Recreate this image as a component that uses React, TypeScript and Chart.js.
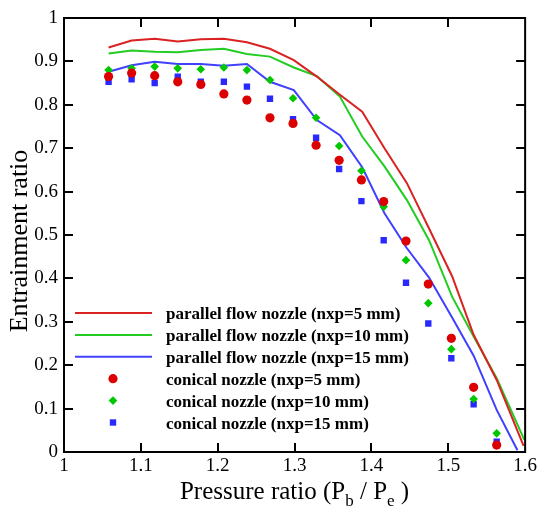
import { useEffect, useRef } from "react";
import { Chart, registerables } from "chart.js";

Chart.register(...registerables);

// ---------- data ----------
const markerX = [1.058, 1.088, 1.118, 1.148, 1.178, 1.208, 1.238, 1.268, 1.298, 1.328, 1.358, 1.387, 1.416, 1.445, 1.474, 1.504, 1.533, 1.563];
const conical5 = [0.865, 0.873, 0.867, 0.853, 0.847, 0.825, 0.811, 0.770, 0.757, 0.707, 0.672, 0.627, 0.577, 0.486, 0.387, 0.262, 0.149, 0.016];
const conical10 = [0.880, 0.884, 0.888, 0.884, 0.882, 0.886, 0.880, 0.857, 0.815, 0.770, 0.705, 0.648, 0.565, 0.442, 0.343, 0.237, 0.122, 0.043];
const conical15 = [0.853, 0.859, 0.850, 0.865, 0.853, 0.853, 0.842, 0.814, 0.767, 0.724, 0.652, 0.578, 0.488, 0.390, 0.296, 0.216, 0.110, 0.024];

const lineX = [1.058, 1.088, 1.118, 1.148, 1.178, 1.208, 1.238, 1.268, 1.299, 1.329, 1.359, 1.388, 1.417, 1.446, 1.475, 1.505, 1.533, 1.563];
const lineEndX = [1.598, 1.599, 1.590];
const parallel5 = [0.932, 0.948, 0.952, 0.946, 0.951, 0.952, 0.944, 0.929, 0.903, 0.865, 0.823, 0.784, 0.700, 0.620, 0.515, 0.405, 0.270, 0.166, 0.014];
const parallel10 = [0.918, 0.925, 0.922, 0.921, 0.926, 0.929, 0.917, 0.911, 0.886, 0.866, 0.819, 0.727, 0.658, 0.581, 0.488, 0.358, 0.266, 0.170, 0.028];
const parallel15 = [0.876, 0.891, 0.899, 0.894, 0.894, 0.890, 0.894, 0.853, 0.834, 0.765, 0.730, 0.656, 0.550, 0.470, 0.402, 0.310, 0.222, 0.097, 0.004];

const xTicks = [1, 1.1, 1.2, 1.3, 1.4, 1.5, 1.6];
const yTicks = [0, 0.1, 0.2, 0.3, 0.4, 0.5, 0.6, 0.7, 0.8, 0.9, 1];

const seriesLabels = [
  "parallel flow nozzle (nxp=5 mm)",
  "parallel flow nozzle (nxp=10 mm)",
  "parallel flow nozzle (nxp=15 mm)",
  "conical nozzle (nxp=5 mm)",
  "conical nozzle (nxp=10 mm)",
  "conical nozzle (nxp=15 mm)",
];

const RED_LINE = "rgb(218,34,34)";
const GREEN_LINE = "rgb(34,204,34)";
const BLUE_LINE = "rgb(64,64,255)";
const RED_PT = "rgb(220,0,0)";
const GREEN_PT = "rgb(0,200,0)";
const BLUE_PT = "rgb(40,40,255)";
const SERIF = "'Liberation Serif', 'Times New Roman', serif";

function pts(xs: number[], ys: number[], endX?: number) {
  return ys.map((y, i) => ({ x: i < xs.length ? xs[i] : (endX as number), y }));
}

function marker(ctx: CanvasRenderingContext2D, style: string, r: number, x: number, y: number) {
  ctx.beginPath();
  if (style === "circle") {
    ctx.arc(x, y, r, 0, Math.PI * 2);
  } else if (style === "rectRot") {
    ctx.moveTo(x, y - r);
    ctx.lineTo(x + r, y);
    ctx.lineTo(x, y + r);
    ctx.lineTo(x - r, y);
    ctx.closePath();
  } else {
    const s = r * Math.SQRT1_2;
    ctx.rect(x - s, y - s, 2 * s, 2 * s);
  }
  ctx.fill();
}

const decorPlugin = {
  id: "decor",
  afterDraw(chart: any) {
    const { ctx, chartArea: a, scales } = chart;
    const xs = scales.x;
    const ys = scales.y;
    ctx.save();
    ctx.strokeStyle = "#000";
    ctx.lineWidth = 2;
    ctx.strokeRect(a.left, a.top, a.right - a.left, a.bottom - a.top);
    const tl = 9;
    ctx.beginPath();
    xTicks.slice(1, -1).forEach((v) => {
      const px = Math.round(xs.getPixelForValue(v));
      ctx.moveTo(px, a.bottom);
      ctx.lineTo(px, a.bottom - tl);
      ctx.moveTo(px, a.top);
      ctx.lineTo(px, a.top + tl);
    });
    yTicks.slice(1, -1).forEach((v) => {
      const py = Math.round(ys.getPixelForValue(v));
      ctx.moveTo(a.left, py);
      ctx.lineTo(a.left + tl, py);
      ctx.moveTo(a.right, py);
      ctx.lineTo(a.right - tl, py);
    });
    ctx.stroke();

    // legend
    const ds = chart.data.datasets;
    const lx0 = a.left + 11;
    const lx1 = a.left + 88;
    const mx = a.left + 49;
    const tx = a.left + 102;
    const y0 = a.top + 295;
    const dy = 21.9;
    ctx.font = `bold 17px ${SERIF}`;
    ctx.textBaseline = "alphabetic";
    ctx.textAlign = "left";
    ds.forEach((d: any, i: number) => {
      const y = y0 + i * dy;
      if (d.showLine) {
        ctx.strokeStyle = d.borderColor;
        ctx.lineWidth = 2;
        ctx.beginPath();
        ctx.moveTo(lx0, y);
        ctx.lineTo(lx1, y);
        ctx.stroke();
      } else {
        ctx.fillStyle = d.backgroundColor;
        marker(ctx, d.pointStyle, d.pointRadius, mx, y);
      }
      ctx.fillStyle = "#000";
      ctx.fillText(d.label, tx, y + 6);
    });

    // y title
    ctx.save();
    ctx.translate(27, (a.top + a.bottom) / 2 + 6);
    ctx.rotate(-Math.PI / 2);
    ctx.font = `26px ${SERIF}`;
    ctx.textAlign = "center";
    ctx.fillStyle = "#000";
    ctx.fillText("Entrainment ratio", 0, 0);
    ctx.restore();

    // x title with subscripts
    const parts: [string, boolean][] = [
      ["Pressure ratio (P", false],
      ["b", true],
      [" / P", false],
      ["e", true],
      [" )", false],
    ];
    const big = `25px ${SERIF}`;
    const small = `17px ${SERIF}`;
    let w = 0;
    parts.forEach(([t, s]) => {
      ctx.font = s ? small : big;
      w += ctx.measureText(t).width;
    });
    let cx = (a.left + a.right) / 2 - w / 2;
    const base = 499;
    ctx.textAlign = "left";
    ctx.fillStyle = "#000";
    parts.forEach(([t, s]) => {
      ctx.font = s ? small : big;
      ctx.fillText(t, cx, s ? base + 7 : base);
      cx += ctx.measureText(t).width;
    });
    ctx.restore();
  },
};

export default function App() {
  const ref = useRef<HTMLCanvasElement | null>(null);
  useEffect(() => {
    if (!ref.current) return;
    const lineDs = (label: string, data: any[], color: string) => ({
      label,
      data,
      showLine: true,
      borderColor: color,
      backgroundColor: color,
      borderWidth: 2,
      pointRadius: 0,
      tension: 0,
      order: 2,
    });
    const ptDs = (label: string, data: any[], color: string, style: string, r: number) => ({
      label,
      data,
      showLine: false,
      pointStyle: style,
      pointRadius: r,
      pointBorderWidth: 0,
      borderWidth: 0,
      borderColor: color,
      backgroundColor: color,
      pointBackgroundColor: color,
      order: 1,
    });
    const chart = new Chart(ref.current, {
      type: "scatter",
      data: {
        datasets: [
          lineDs(seriesLabels[0], pts(lineX, parallel5, lineEndX[0]), RED_LINE),
          lineDs(seriesLabels[1], pts(lineX, parallel10, lineEndX[1]), GREEN_LINE),
          lineDs(seriesLabels[2], pts(lineX, parallel15, lineEndX[2]), BLUE_LINE),
          ptDs(seriesLabels[3], pts(markerX, conical5), RED_PT, "circle", 4.6),
          ptDs(seriesLabels[4], pts(markerX, conical10), GREEN_PT, "rectRot", 4.3),
          ptDs(seriesLabels[5], pts(markerX, conical15), BLUE_PT, "rect", 4.5),
        ] as any,
      },
      options: {
        animation: false,
        responsive: false,
        devicePixelRatio: 1,
        layout: { padding: { top: 18, right: 12, left: 0, bottom: 0 } },
        plugins: { legend: { display: false }, tooltip: { enabled: false } },
        scales: {
          x: {
            type: "linear",
            min: 1,
            max: 1.6,
            afterFit: (s: any) => {
              s.height = 56;
            },
            afterBuildTicks: (s: any) => {
              s.ticks = xTicks.map((v) => ({ value: v }));
            },
            grid: { display: false, drawTicks: false },
            border: { display: false },
            ticks: {
              padding: 3,
              color: "#000",
              font: { family: SERIF, size: 19 },
              callback: (v: any) => String(Math.round(Number(v) * 10) / 10),
              maxRotation: 0,
              autoSkip: false,
            },
          },
          y: {
            type: "linear",
            min: 0,
            max: 1,
            afterFit: (s: any) => {
              s.width = 64;
            },
            afterBuildTicks: (s: any) => {
              s.ticks = yTicks.map((v) => ({ value: v }));
            },
            grid: { display: false, drawTicks: false },
            border: { display: false },
            ticks: {
              padding: 6,
              color: "#000",
              font: { family: SERIF, size: 19 },
              callback: (v: any) => String(Math.round(Number(v) * 10) / 10),
              autoSkip: false,
            },
          },
        },
      },
      plugins: [decorPlugin],
    } as any);
    return () => chart.destroy();
  }, []);
  return (
    <div style={{ position: "fixed", left: 0, top: 0, width: 540, height: 508, background: "#fff" }}>
      <canvas ref={ref} width={540} height={508} style={{ display: "block" }} />
    </div>
  );
}
